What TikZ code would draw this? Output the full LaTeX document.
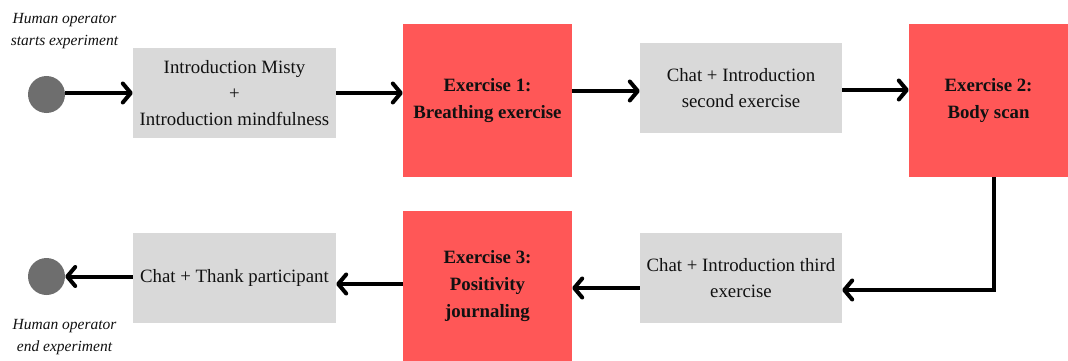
\documentclass[tikz,border=0pt]{standalone}
\usepackage{fontspec}
\setmainfont{Liberation Serif}
\usetikzlibrary{arrows.meta}
\definecolor{boxgray}{HTML}{D9D9D9}
\definecolor{exred}{HTML}{FF5757}
\definecolor{dotgray}{HTML}{6E6E6E}
\definecolor{txt}{HTML}{111111}
\begin{document}
\begin{tikzpicture}[x=1pt,y=-1pt,
  graybox/.style={fill=boxgray,draw=none,inner sep=0pt,align=center,text=txt,
    font=\fontsize{18.8}{26}\selectfont},
  redbox/.style={fill=exred,draw=none,inner sep=0pt,align=center,text=txt,
    font=\fontsize{18.8}{27}\selectfont\bfseries},
  dot/.style={circle,fill=dotgray,draw=none,minimum size=37pt,inner sep=0pt},
  lbl/.style={align=center,text=txt,inner sep=0pt,font=\fontsize{15.5}{22}\selectfont\itshape},
  conn/.style={line width=4pt,-{Straight Barb[length=8pt,width=19pt,line join=round,line cap=round]}}
]
\useasboundingbox (0,0) rectangle (1068,361);
\node[dot] (start) at (46.5,94.5) {};
\node[dot] (end) at (46.5,276.5) {};
\node[lbl] (lstart) at (64.5,31) {Human operator\\starts experiment};
\node[lbl] (lend) at (64.5,337) {Human operator\\end experiment};

\node[graybox,minimum width=203pt,minimum height=90pt] (b1) at (234.5,93) {Introduction Misty\\+\\Introduction mindfulness};
\node[redbox,minimum width=169pt,minimum height=153pt] (r1) at (487.5,100.5) {Exercise 1:\\Breathing exercise};
\node[graybox,minimum width=202pt,minimum height=90pt] (b2) at (741,88) {Chat + Introduction\\second exercise};
\node[redbox,minimum width=159pt,minimum height=153pt] (r2) at (988.5,100.5) {Exercise 2:\\Body scan};
\node[graybox,minimum width=202pt,minimum height=90pt] (b3) at (741,278) {Chat + Introduction third\\exercise};
\node[redbox,minimum width=169pt,minimum height=150pt] (r3) at (487.5,286) {Exercise 3:\\Positivity\\journaling};
\node[graybox,minimum width=203pt,minimum height=90pt] (b4) at (234.5,278) {Chat + Thank participant};

\draw[conn] (start.east |- 0,93) -- (b1.west |- 0,93);
\draw[conn] (b1.east |- 0,93) -- (r1.west |- 0,93);
\draw[conn] (r1.east |- 0,91) -- (b2.west |- 0,91);
\draw[conn] (b2.east |- 0,90) -- (r2.west |- 0,90);
\draw[conn,line join=miter] (r2.south -| 994,0) |- (b3.east |- 0,290);
\draw[conn] (b3.west |- 0,288) -- (r3.east |- 0,288);
\draw[conn] (r3.west |- 0,284) -- (b4.east |- 0,284);
\draw[conn] (b4.west |- 0,276.5) -- (end.east |- 0,276.5);
\end{tikzpicture}
\end{document}
